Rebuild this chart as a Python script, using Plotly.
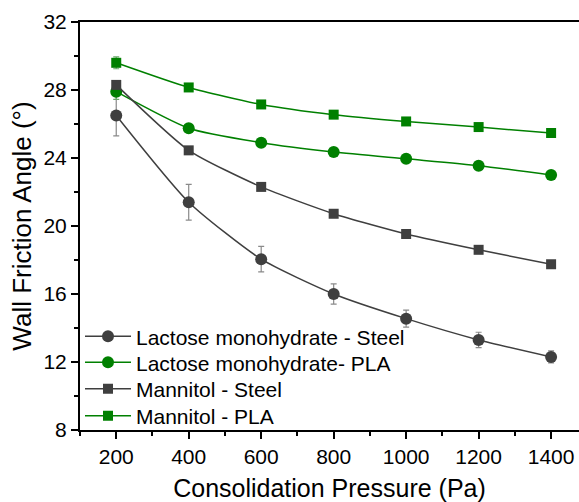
import plotly.graph_objects as go

pressure = [200, 400, 600, 800, 1000, 1200, 1400]

lactose_steel = [26.5, 21.4, 18.05, 16.0, 14.55, 13.3, 12.3]
lactose_steel_err = [1.2, 1.05, 0.75, 0.6, 0.5, 0.45, 0.35]

lactose_pla = [27.9, 25.75, 24.9, 24.35, 23.95, 23.55, 23.0]
lactose_pla_err = [0.45, 0.15, 0.15, 0.15, 0.15, 0.15, 0.15]

mannitol_steel = [28.3, 24.45, 22.3, 20.72, 19.53, 18.6, 17.75]
mannitol_steel_err = [0.2, 0.15, 0.15, 0.1, 0.1, 0.1, 0.1]

mannitol_pla = [29.6, 28.15, 27.15, 26.55, 26.15, 25.82, 25.47]
mannitol_pla_err = [0.35, 0.15, 0.15, 0.1, 0.1, 0.1, 0.1]

names = ["Lactose monohydrate - Steel", "Lactose monohydrate- PLA",
         "Mannitol - Steel", "Mannitol - PLA"]

DARK = "#3f3f3f"
GREEN = "#008000"

series = [
    (lactose_steel, lactose_steel_err, DARK, "circle", 12, "#8a8a8a"),
    (lactose_pla, lactose_pla_err, GREEN, "circle", 12, "#6aa86a"),
    (mannitol_steel, mannitol_steel_err, DARK, "square", 10, "#8a8a8a"),
    (mannitol_pla, mannitol_pla_err, GREEN, "square", 10, "#6aa86a"),
]

legend_ids = ["legend", "legend2", "legend3", "legend4"]
legend_y = [0.2287, 0.165, 0.1005, 0.034]

fig = go.Figure()
for (vals, err, col, sym, sz, ecol), nm, lid in zip(series, names, legend_ids):
    fig.add_trace(go.Scatter(
        x=pressure, y=vals, name=nm, mode="lines+markers", legend=lid,
        line=dict(color=col, width=1.5, shape="spline", smoothing=0.6),
        marker=dict(color=col, symbol=sym, size=sz, line=dict(width=0)),
        error_y=dict(type="data", array=err, color=ecol, thickness=1.2, width=3),
    ))

legend_common = dict(x=0.0, xanchor="left", yanchor="middle",
                     bgcolor="rgba(0,0,0,0)", font=dict(size=21),
                     itemwidth=46, borderwidth=0)

fig.update_layout(
    width=579, height=502,
    margin=dict(l=80, r=0, t=22, b=72),
    paper_bgcolor="white", plot_bgcolor="white",
    font=dict(family="Liberation Sans, Arial", color="black", size=21),
    showlegend=True,
    legend=dict(y=legend_y[0], **legend_common),
    legend2=dict(y=legend_y[1], **legend_common),
    legend3=dict(y=legend_y[2], **legend_common),
    legend4=dict(y=legend_y[3], **legend_common),
)

fig.update_xaxes(
    range=[100, 1477], tickvals=[200, 400, 600, 800, 1000, 1200, 1400],
    ticks="outside", ticklen=7, tickwidth=1.5, tickcolor="black",
    minor=dict(tickvals=[100, 300, 500, 700, 900, 1100, 1300, 1500],
               ticks="outside", ticklen=4, tickwidth=1.5, tickcolor="black"),
    showline=True, linecolor="black", linewidth=2, mirror=True,
    showgrid=False, zeroline=False,
    title=dict(text="Consolidation Pressure (Pa)", font=dict(size=25), standoff=14),
    tickfont=dict(size=21),
)
fig.update_yaxes(
    range=[8, 32], tickvals=[8, 12, 16, 20, 24, 28, 32],
    ticks="outside", ticklen=7, tickwidth=1.5, tickcolor="black",
    minor=dict(tickvals=[10, 14, 18, 22, 26, 30],
               ticks="outside", ticklen=4, tickwidth=1.5, tickcolor="black"),
    showline=True, linecolor="black", linewidth=2, mirror=False,
    showgrid=False, zeroline=False,
    title=dict(text="Wall Friction Angle (°)", font=dict(size=26), standoff=4),
    tickfont=dict(size=21),
)

fig.write_html("out.html")
